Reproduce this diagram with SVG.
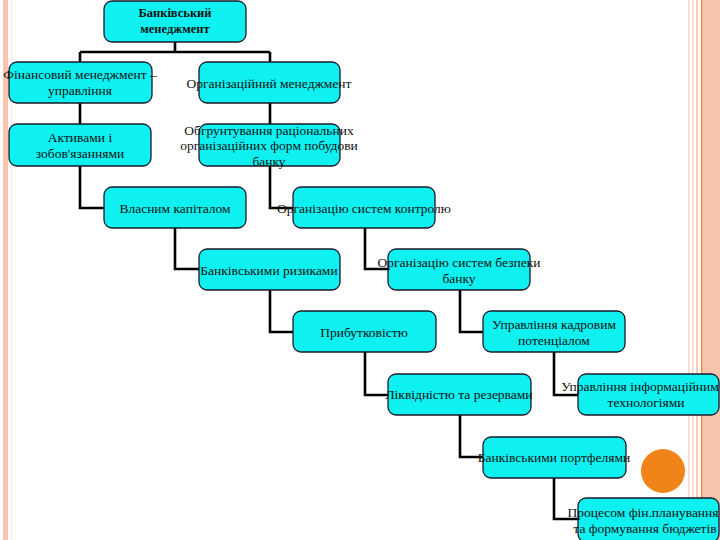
<svg xmlns="http://www.w3.org/2000/svg" width="720" height="540" viewBox="0 0 720 540">
<style>
.box{fill:#0ff0f0;stroke:#1a1a2a;stroke-width:1.3}
.t{font-family:"Liberation Serif","Times New Roman",serif;font-size:13.5px;fill:#111;text-anchor:middle}
.b{font-weight:bold;font-size:12.5px}
.c{fill:none;stroke:#000;stroke-width:2.6}
</style>
<rect width="720" height="540" fill="#fff"/>
<g id="decor">
<rect x="3" y="0" width="5" height="540" fill="#f9c4ad"/>
<rect x="11" y="0" width="1" height="540" fill="#fbe6dc"/>
<rect x="688" y="0" width="1.5" height="540" fill="#f3d6cc"/>
<rect x="692" y="0" width="1.5" height="540" fill="#f3d6cc"/>
<rect x="696" y="0" width="2" height="540" fill="#f6cdbd"/>
<rect x="701" y="0" width="1.6" height="540" fill="#ec8a3a"/>
<rect x="703" y="0" width="17" height="540" fill="#f9c4ad"/>
<circle cx="663" cy="471" r="22" fill="#f08418"/>
</g>
<g id="connectors">
<path class="c" d="M175 42V52M80 52H270M80 52V62M270 52V62"/>
<path class="c" d="M80 103V124M270 103V124"/>
<path class="c" d="M80 166V208H105M270 166V208H294"/>
<path class="c" d="M175 228V269H199M365 228V269H389"/>
<path class="c" d="M270 290V332H294M460 290V332H483"/>
<path class="c" d="M365 352V395H388M554 352V395H578"/>
<path class="c" d="M460 415V457H483"/>
<path class="c" d="M554 478V519H578"/>
</g>
<g id="root"><rect class="box" x="104" y="1" width="142" height="41" rx="8"/><text class="t b" x="175" y="17">Банківський</text><text class="t b" x="175" y="33">менеджмент</text></g>
<g id="fin"><rect class="box" x="9" y="62" width="143" height="41" rx="8"/><text class="t" x="80" y="79">Фінансовий менеджмент –</text><text class="t" x="80" y="95">управління</text></g>
<g id="org"><rect class="box" x="199" y="62" width="141" height="41" rx="8"/><text class="t" x="269" y="88">Організаційний менеджмент</text></g>
<g id="aktyvy"><rect class="box" x="9" y="124" width="142" height="42" rx="8"/><text class="t" x="80" y="142">Активами і</text><text class="t" x="80" y="158">зобов'язаннями</text></g>
<g id="obgr"><rect class="box" x="199" y="124" width="141" height="42" rx="8"/><text class="t" x="269" y="135">Обгрунтування раціональних</text><text class="t" x="269" y="150">організаційних форм побудови</text><text class="t" x="269" y="166">банку</text></g>
<g id="vlasnyi"><rect class="box" x="104" y="187" width="142" height="41" rx="8"/><text class="t" x="175" y="213">Власним капіталом</text></g>
<g id="kontrol"><rect class="box" x="293" y="187" width="142" height="41" rx="8"/><text class="t" x="364" y="213">Організацію систем контролю</text></g>
<g id="ryzyky"><rect class="box" x="199" y="249" width="141" height="41" rx="8"/><text class="t" x="269" y="275">Банківськими ризиками</text></g>
<g id="bezpeka"><rect class="box" x="388" y="249" width="142" height="41" rx="8"/><text class="t" x="459" y="267">Організацію систем безпеки</text><text class="t" x="459" y="283">банку</text></g>
<g id="prybutok"><rect class="box" x="293" y="311" width="143" height="41" rx="8"/><text class="t" x="364" y="337">Прибутковістю</text></g>
<g id="kadry"><rect class="box" x="483" y="311" width="142" height="41" rx="8"/><text class="t" x="554" y="329">Управління кадровим</text><text class="t" x="554" y="345">потенціалом</text></g>
<g id="likvid"><rect class="box" x="388" y="374" width="143" height="41" rx="8"/><text class="t" x="459" y="399">Ліквідністю та резервами</text></g>
<g id="it"><rect class="box" x="578" y="374" width="141" height="41" rx="8"/><text class="t" x="640" y="391" font-size="13px">Управління інформаційним</text><text class="t" x="646" y="407">технологіями</text></g>
<g id="portfeli"><rect class="box" x="483" y="437" width="143" height="41" rx="8"/><text class="t" x="554" y="462">Банківськими портфелями</text></g>
<g id="plan"><rect class="box" x="578" y="498" width="141" height="44" rx="8"/><text class="t" x="643" y="517" font-size="13px">Процесом фін.планування</text><text class="t" x="645" y="533">та формування бюджетів</text></g>
</svg>
